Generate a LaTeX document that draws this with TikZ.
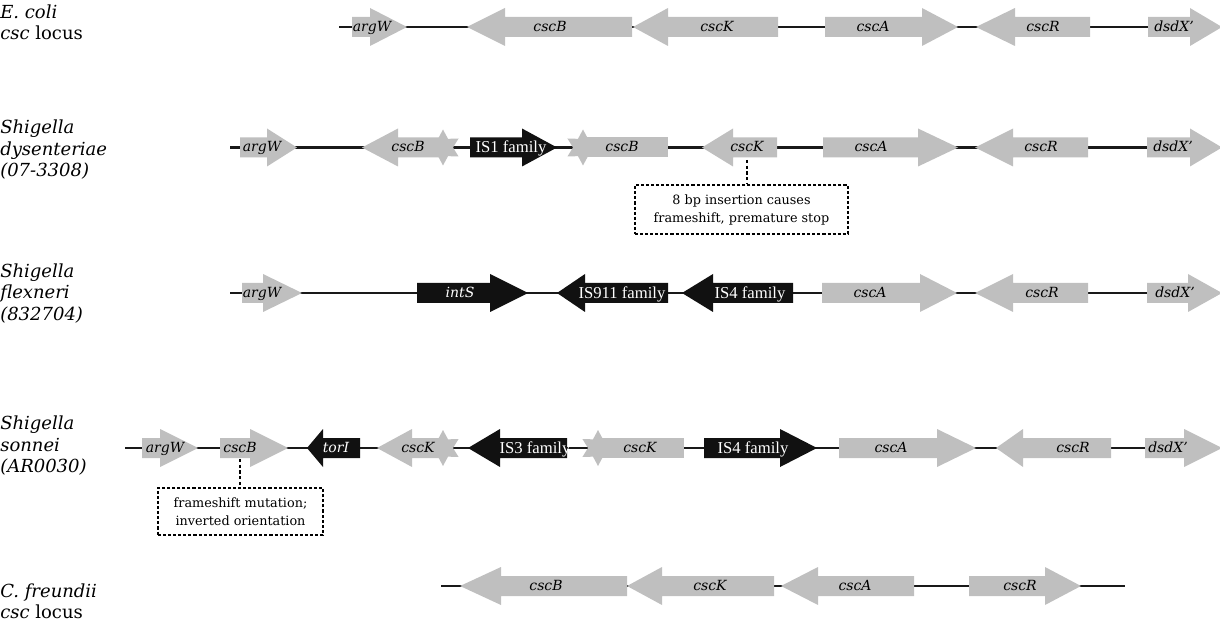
\documentclass[tikz,border=0pt]{standalone}
\usepackage{fontspec}
\setmainfont{DejaVu Serif}
\newfontfamily\timesf{Liberation Serif}
\begin{document}
\begin{tikzpicture}[x=0.75pt,y=-0.75pt]
\useasboundingbox (0,0) rectangle (1220,623);
\definecolor{genegray}{RGB}{191,191,191}
\definecolor{geneblack}{RGB}{17,17,17}
\tikzset{
 backbone/.style={line width=1.6pt, draw=black!90},
 fillg/.style={fill=genegray},
 fillb/.style={fill=geneblack},
 fillbi/.style={fill=geneblack},
 labg/.style={anchor=base, inner sep=0, font=\fontsize{10.5}{12}\selectfont\itshape},
 labbi/.style={anchor=base, inner sep=0, text=white, font=\fontsize{10.5}{12}\selectfont\itshape},
 labb/.style={anchor=base, inner sep=0, yshift=-0.75pt, text=white, font=\timesf\fontsize{12.5}{14}\selectfont},
 note/.style={draw, line width=1.2pt, dash pattern=on 2.3pt off 1.5pt, align=center, inner sep=0, font=\fontsize{9.6}{13.5}\selectfont},
 notelink/.style={line width=1.4pt, dash pattern=on 2.3pt off 2pt},
 species/.style={anchor=west, align=left, inner sep=0, font=\fontsize{13.5}{16.1}\selectfont},
}
% #1 kind, #2 body start, #3 head base, #4 tip, #5 y, #6 name, #7 label x, #8 label
\newcommand\gene[8]{%
  \fill[fill#1] (#2,#5-10) -- (#3,#5-10) -- (#3,#5-19) -- (#4,#5) -- (#3,#5+19) -- (#3,#5+10) -- (#2,#5+10) -- cycle;
  \node[lab#1] (#6) at (#7,#5+4.5) {#8};}
\newcommand\burst[2]{%
  \fill[fillg] (#1,#2) +(90:18) -- +(120:10) -- +(150:18) -- +(180:10) -- +(210:18) -- +(240:10)
    -- +(270:18) -- +(300:10) -- +(330:18) -- +(0:10) -- +(30:18) -- +(60:10) -- cycle;}
\newcommand\frag[6]{% start, end, y, name, label x, label
  \fill[fillg] (#1,#3-10) rectangle (#2,#3+10);
  \node[labg] (#4) at (#5,#3+4.5) {#6};}

% species labels
\node[species] (sp1) at (0,22.5) {\textit{E. coli}\\\textit{csc} locus};
\node[species] (sp2) at (0,150) {\textit{Shigella}\\\textit{dysenteriae}\\\textit{(07-3308)}};
\node[species] (sp3) at (0,293.5) {\textit{Shigella}\\\textit{flexneri}\\\textit{(832704)}};
\node[species] (sp4) at (0,446) {\textit{Shigella}\\\textit{sonnei}\\\textit{(AR0030)}};
\node[species] (sp5) at (0,601.5) {\textit{C. freundii}\\\textit{csc} locus};

% backbones
\coordinate (r1s) at (339,27);   \coordinate (r1e) at (1150,27);
\coordinate (r2s) at (230,147.5);\coordinate (r2e) at (1150,147.5);
\coordinate (r3s) at (230,293);  \coordinate (r3e) at (1150,293);
\coordinate (r4s) at (125,448);  \coordinate (r4e) at (1150,448);
\coordinate (r5s) at (441,586);  \coordinate (r5e) at (1125,586);
\draw[backbone] (r1s) -- (r1e);
\draw[backbone] (r2s) -- (r2e);
\draw[backbone] (r3s) -- (r3e);
\draw[backbone] (r4s) -- (r4e);
\draw[backbone] (r5s) -- (r5e);

% Row 1: E. coli
\gene{g}{352}{370}{407}{27}{argWa}{372}{argW}
\gene{g}{632}{505}{467}{27}{cscBa}{550}{cscB}
\gene{g}{778}{668}{633}{27}{cscKa}{717}{cscK}
\gene{g}{825}{922}{958}{27}{cscAa}{873}{cscA}
\gene{g}{1090}{1015}{976}{27}{cscRa}{1043}{cscR}
\gene{g}{1148}{1190}{1222}{27}{dsdXa}{1174}{dsdX’}

% Row 2: S. dysenteriae
\gene{g}{240}{267}{297}{147.5}{argWb}{262}{argW}
\burst{443}{147.5}
\gene{g}{443}{398}{362}{147.5}{cscBb}{408}{cscB}
\gene{b}{470}{522}{557}{147.5}{ISb}{511}{IS1 family}
\burst{583}{147.5}
\frag{583}{668}{147.5}{cscBbb}{622}{cscB}
\gene{g}{777}{733}{702}{147.5}{cscKb}{747}{cscK}
\gene{g}{823}{918}{958}{147.5}{cscAb}{871}{cscA}
\gene{g}{1088}{1013}{975}{147.5}{cscRb}{1041}{cscR}
\gene{g}{1147}{1190}{1222}{147.5}{dsdXb}{1173}{dsdX’}
\node[note, minimum width=159.75pt, minimum height=36.75pt] (n1) at (741.5,209.5)
  {8 bp insertion causes\\frameshift, premature stop};
\coordinate (k1) at (747,160);
\draw[notelink] (k1) -- (k1 |- n1.north);

% Row 3: S. flexneri
\gene{g}{242}{263}{302}{293}{argWc}{262}{argW}
\gene{bi}{417}{490}{528}{293}{intS}{460}{intS}
\gene{b}{668}{585}{557}{293}{IS911}{622}{IS911 family}
\gene{b}{793}{713}{682}{293}{ISfour}{750}{IS4 family}
\gene{g}{822}{920}{957}{293}{cscAc}{870}{cscA}
\gene{g}{1088}{1013}{975}{293}{cscRc}{1042}{cscR}
\gene{g}{1147}{1188}{1222}{293}{dsdXc}{1175}{dsdX’}

% Row 4: S. sonnei
\gene{g}{142}{160}{198}{448}{argWd}{165}{argW}
\gene{g}{220}{250}{288}{448}{cscBd}{240}{cscB}
\gene{bi}{360}{323}{307}{448}{torI}{336}{torI}
\burst{443}{448}
\gene{g}{443}{412}{377}{448}{cscKd}{418}{cscK}
\gene{b}{567}{500}{468}{448}{ISthree}{535}{IS3 family}
\burst{598}{448}
\frag{598}{684}{448}{cscKdd}{640}{cscK}
\gene{b}{704}{780}{817}{448}{ISfourd}{753}{IS4 family}
\gene{g}{839}{937}{976}{448}{cscAd}{891}{cscA}
\gene{g}{1111}{1023}{996}{448}{cscRd}{1073}{cscR}
\gene{g}{1145}{1184}{1222}{448}{dsdXd}{1168}{dsdX’}
\node[note, minimum width=123.75pt, minimum height=35.25pt] (n2) at (240.5,511.5)
  {frameshift mutation;\\inverted orientation};
\coordinate (k2) at (240,459);
\draw[notelink] (k2) -- (k2 |- n2.north);

% Row 5: C. freundii
\gene{g}{627}{501}{460}{586}{cscBe}{546}{cscB}
\gene{g}{774}{662}{627}{586}{cscKe}{710}{cscK}
\gene{g}{914}{818}{781}{586}{cscAe}{855}{cscA}
\gene{g}{969}{1045}{1081}{586}{cscRe}{1020}{cscR}
\end{tikzpicture}
\end{document}
